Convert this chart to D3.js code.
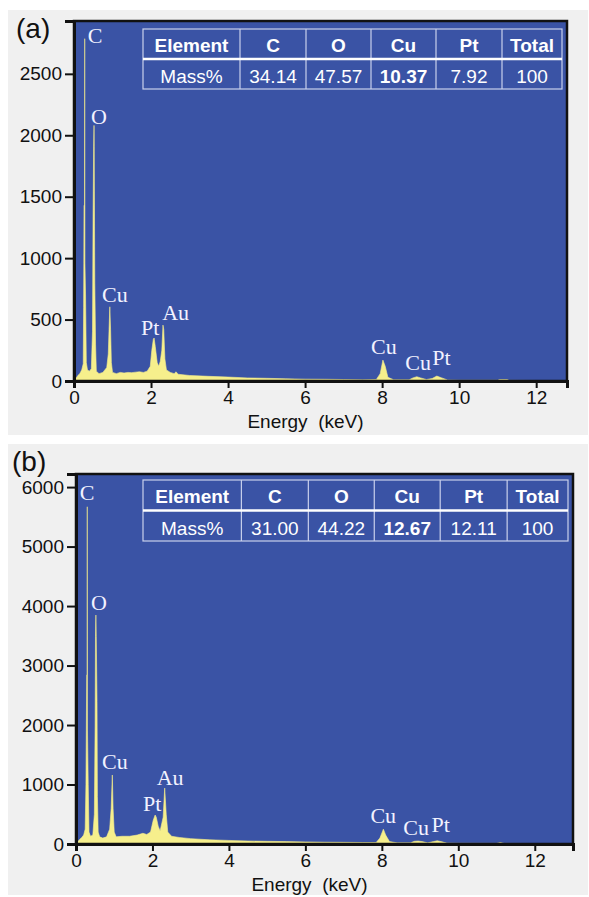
<!DOCTYPE html>
<html><head><meta charset="utf-8">
<script src="https://cdn.jsdelivr.net/npm/d3@7"></script>
<style>
html,body{margin:0;padding:0;background:#fff;}
svg{display:block;}
text{font-family:"Liberation Sans",Arial,sans-serif;}
</style></head>
<body>
<svg id="chart" width="589" height="897"></svg>
<script>
// ---------- DATA ----------
const xTicks = [0, 2, 4, 6, 8, 10, 12];
const yTicksA = [0, 500, 1000, 1500, 2000, 2500];
const yTicksB = [0, 1000, 2000, 3000, 4000, 5000, 6000];

const energyA = [0.00,0.05,0.10,0.15,0.20,0.24,0.25,0.255,0.26,0.272,0.278,0.284,0.30,0.32,0.35,0.40,0.45,0.48,0.495,0.51,0.52,0.525,0.54,0.56,0.58,0.65,0.75,0.85,0.89,0.91,0.93,0.95,0.97,1.00,1.1,1.2,1.3,1.4,1.5,1.6,1.7,1.8,1.9,1.98,2.02,2.06,2.08,2.11,2.16,2.2,2.24,2.28,2.31,2.33,2.36,2.4,2.5,2.6,2.65,2.7,3.0,3.5,4.0,4.5,5.0,5.5,6.0,6.5,7.0,7.5,7.85,7.95,8.02,8.08,8.15,8.3,8.7,8.8,8.9,9.0,9.15,9.3,9.42,9.55,9.7,10.0,11.0,11.05,11.25,11.3,12.0,12.8];
const countsA = [0,20,45,60,90,140,600,960,1430,1430,2786,960,700,150,90,80,100,400,1336,1905,2080,1905,797,300,80,60,70,110,220,420,604,420,150,70,60,70,65,70,68,72,75,70,80,120,250,340,350,280,150,120,160,250,455,420,180,90,70,60,75,55,45,38,32,25,22,18,15,14,12,10,12,60,170,120,30,10,10,25,35,25,12,20,40,25,8,6,6,12,12,5,4,4];

const energyB = [0.00,0.05,0.10,0.15,0.20,0.24,0.26,0.27,0.28,0.29,0.295,0.30,0.32,0.34,0.38,0.44,0.48,0.50,0.51,0.52,0.53,0.55,0.56,0.58,0.62,0.7,0.8,0.88,0.92,0.95,0.97,1.0,1.05,1.2,1.4,1.6,1.75,1.85,1.95,2.02,2.07,2.1,2.15,2.2,2.28,2.32,2.36,2.4,2.5,2.7,3.0,3.5,4.0,4.5,5.0,5.5,6.0,6.5,7.0,7.5,7.85,7.95,8.04,8.1,8.2,8.4,8.75,8.85,8.95,9.05,9.2,9.35,9.45,9.55,9.7,10.0,11.0,11.1,11.2,12.0,13.0];
const countsB = [0,40,80,110,150,250,1000,1916,2840,2840,5669,1916,1000,200,130,150,500,2000,3484,3849,3484,2400,800,200,120,100,120,250,600,1160,600,200,120,130,130,150,180,160,200,400,487,450,300,220,450,940,500,200,130,110,90,70,60,50,45,40,35,30,28,25,25,100,250,150,40,20,20,45,50,40,20,40,55,40,15,12,10,25,10,8,6];

const peakNamesA = ["C","O","Cu","Pt","Au","Cu","Cu","Pt"];
const peakLabelEA = [0.36,0.44,0.73,1.74,2.29,7.71,8.60,9.30];
const peakLabelCA = [2748,2089,642,374,496,220,89,130];

const peakNamesB = ["C","O","Cu","Au","Pt","Cu","Cu","Pt"];
const peakLabelEB = [0.10,0.39,0.68,2.11,1.75,7.70,8.56,9.30];
const peakLabelCB = [5782,3933,1261,992,555,353,151,202];

const tableHeader = ["Element","C","O","Cu","Pt","Total"];
const massA = ["Mass%","34.14","47.57","10.37","7.92","100"];
const massB = ["Mass%","31.00","44.22","12.67","12.11","100"];
const boldValueCol = 3;

// ---------- DRAW ----------
const svg = d3.select("#chart");
const BLUE = "#3a53a5", YELLOW = "#f6ef8c", GRAY = "#f0f0f0";

function panel(cfg) {
  const g = svg.append("g");
  g.append("rect").attr("x", cfg.bg[0]).attr("y", cfg.bg[1])
    .attr("width", cfg.bg[2]).attr("height", cfg.bg[3]).attr("fill", GRAY);

  const x = d3.scaleLinear().domain([0, cfg.xMax]).range([cfg.left, cfg.right]);
  const y = d3.scaleLinear().domain([0, cfg.yMax]).range([cfg.bottom, cfg.top]);

  g.append("rect").attr("x", cfg.left).attr("y", cfg.top)
    .attr("width", cfg.right - cfg.left).attr("height", cfg.bottom - cfg.top)
    .attr("fill", BLUE);

  const pts = cfg.energy.map((e, i) => [e, cfg.counts[i]]);
  const area = d3.area().x(d => x(d[0])).y0(y(0)).y1(d => y(d[1]));
  g.append("path").datum(pts).attr("d", area).attr("fill", YELLOW)
    .attr("stroke", YELLOW).attr("stroke-width", 0.6);

  // frame
  g.append("rect").attr("x", cfg.left).attr("y", cfg.top)
    .attr("width", cfg.right - cfg.left).attr("height", cfg.bottom - cfg.top)
    .attr("fill", "none").attr("stroke", "#111").attr("stroke-width", 2.5);

  // axes
  const ya = g.append("g").attr("transform", `translate(${cfg.left},0)`)
    .call(d3.axisLeft(y).tickValues(cfg.yTicks).tickSize(9).tickPadding(3).tickFormat(d3.format("d")));
  const xa = g.append("g").attr("transform", `translate(0,${cfg.bottom})`)
    .call(d3.axisBottom(x).tickValues(xTicks).tickSize(7).tickPadding(3).tickFormat(d3.format("d")));
  [ya, xa].forEach(a => {
    a.select(".domain").attr("stroke", "#111").attr("stroke-width", 3);
    a.selectAll(".tick line").attr("stroke", "#111").attr("stroke-width", 2);
    a.selectAll(".tick text").attr("fill", "#111").style("font-size", "19px")
      .style("font-family", "'Liberation Sans',Arial,sans-serif");
  });

  g.append("text").attr("x", (cfg.left + cfg.right) / 2 - 15).attr("y", cfg.bottom + 47)
    .attr("text-anchor", "middle").attr("fill", "#111").style("font-size", "19px")
    .attr("xml:space", "preserve").text("Energy  (keV)");

  g.append("text").attr("x", cfg.labelPos[0]).attr("y", cfg.labelPos[1])
    .attr("fill", "#111").style("font-size", "28px").text(cfg.label);

  // peak labels
  cfg.names.forEach((n, i) => {
    g.append("text").attr("x", x(cfg.labE[i])).attr("y", y(cfg.labC[i]))
      .attr("fill", "#f2f2ff").style("font-family", "'Liberation Serif','Times New Roman',serif")
      .style("font-size", "22px").text(n);
  });

  // table
  const t = cfg.table;
  const widths = [97, 66, 65, 65, 66, 60];
  const tw = d3.sum(widths), scale = (t.right - t.left) / tw;
  const xs = [t.left];
  widths.forEach((w, i) => xs.push(xs[i] + w * scale));
  const rowH = (t.bottom - t.top) / 2;
  const tg = g.append("g");
  tg.append("rect").attr("x", t.left).attr("y", t.top).attr("width", t.right - t.left)
    .attr("height", t.bottom - t.top).attr("fill", "none").attr("stroke", "#c9d0ec").attr("stroke-width", 1.2);
  xs.slice(1, -1).forEach(xv => tg.append("line").attr("x1", xv).attr("x2", xv)
    .attr("y1", t.top).attr("y2", t.bottom).attr("stroke", "#c9d0ec").attr("stroke-width", 1.2));
  tg.append("line").attr("x1", t.left).attr("x2", t.right).attr("y1", t.top + rowH).attr("y2", t.top + rowH)
    .attr("stroke", "#ffffff").attr("stroke-width", 2.5);
  tableHeader.forEach((h, i) => {
    tg.append("text").attr("x", (xs[i] + xs[i + 1]) / 2).attr("y", t.top + rowH - 7.5)
      .attr("text-anchor", "middle").attr("fill", "#fff").style("font-size", "19px")
      .style("font-weight", "bold").text(h);
  });
  cfg.mass.forEach((m, i) => {
    tg.append("text").attr("x", (xs[i] + xs[i + 1]) / 2).attr("y", t.bottom - 6.5)
      .attr("text-anchor", "middle").attr("fill", "#fff").style("font-size", "19px")
      .style("font-weight", i === boldValueCol ? "bold" : "normal").text(m);
  });
}

panel({
  bg: [8, 10, 580, 425], left: 74, right: 567, top: 21, bottom: 381,
  xMax: 12.8, yMax: 2930, yTicks: yTicksA, energy: energyA, counts: countsA,
  names: peakNamesA, labE: peakLabelEA, labC: peakLabelCA,
  label: "(a)", labelPos: [16, 38], mass: massA,
  table: {left: 143, right: 562, top: 29, bottom: 89}
});
panel({
  bg: [8, 444, 580, 451], left: 76, right: 573, top: 474, bottom: 844,
  xMax: 13, yMax: 6220, yTicks: yTicksB, energy: energyB, counts: countsB,
  names: peakNamesB, labE: peakLabelEB, labC: peakLabelCB,
  label: "(b)", labelPos: [12, 471], mass: massB,
  table: {left: 143, right: 568, top: 480, bottom: 541}
});
</script>
</body></html>
